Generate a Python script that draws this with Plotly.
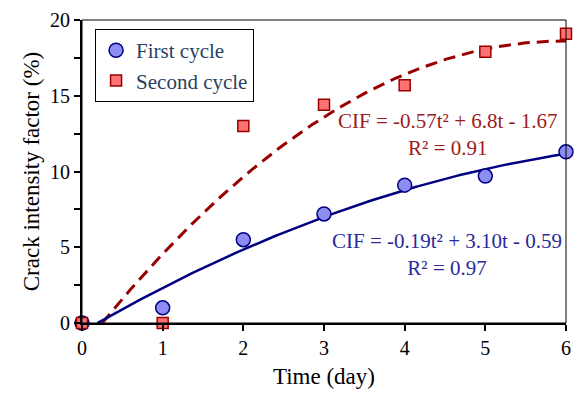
import numpy as np
import plotly.graph_objects as go

days = [0, 1, 2, 3, 4, 5, 6]
first_cycle = [0.0, 1.0, 5.5, 7.2, 9.1, 9.7, 11.3]
second_cycle = [0.0, 0.0, 13.0, 14.4, 15.7, 17.9, 19.1]

fit_first = [-0.19, 3.10, -0.59]
fit_second = [-0.57, 6.8, -1.67]
fit_first_start = 0.19
fit_second_start = 0.25

x_ticks = [0, 1, 2, 3, 4, 5, 6]
y_ticks = [0, 2.5, 5, 7.5, 10, 12.5, 15, 17.5, 20]
y_tick_text = ["0", "", "5", "", "10", "", "15", "", "20"]

FONT = "Liberation Serif"
BLUE_LINE = "#000080"
RED_LINE = "#990000"
BLUE_TXT = "#2A2A9A"
RED_TXT = "#9B1C1C"

t1 = np.linspace(fit_first_start, 6, 200)
t2 = np.linspace(fit_second_start, 6, 200)

fig = go.Figure()
fig.add_trace(go.Scatter(x=t2, y=np.polyval(fit_second, t2), mode="lines",
                         line=dict(color=RED_LINE, width=3, dash="12px,7px"),
                         showlegend=False))
fig.add_trace(go.Scatter(x=t1, y=np.polyval(fit_first, t1), mode="lines",
                         line=dict(color=BLUE_LINE, width=2.5),
                         showlegend=False))
fig.add_trace(go.Scatter(x=days, y=first_cycle, mode="markers", name="First cycle",
                         marker=dict(symbol="circle", size=14, color="#8C8CF2",
                                     line=dict(color=BLUE_LINE, width=1.5)),
                         cliponaxis=False))
fig.add_trace(go.Scatter(x=days, y=second_cycle, mode="markers", name="Second cycle",
                         marker=dict(symbol="square", size=11, color="#FF7272",
                                     line=dict(color=RED_LINE, width=1.5)),
                         cliponaxis=False))

fig.add_annotation(x=4.54, y=12.45, text="CIF = -0.57t² + 6.8t - 1.67<br>R² = 0.91",
                   showarrow=False, font=dict(family=FONT, size=21, color=RED_TXT),
                   align="center", xanchor="center", yanchor="middle")
fig.add_annotation(x=4.52, y=4.5, text="CIF = -0.19t² + 3.10t - 0.59<br>R² = 0.97",
                   showarrow=False, font=dict(family=FONT, size=21, color=BLUE_TXT),
                   align="center", xanchor="center", yanchor="middle")

fig.add_shape(type="rect", xref="x domain", yref="y domain", x0=0, x1=1, y0=0, y1=1,
              line=dict(color="black", width=1), layer="above")

fig.update_layout(
    width=578, height=394,
    margin=dict(l=82, r=7, t=20, b=71),
    paper_bgcolor="white", plot_bgcolor="white",
    font=dict(family=FONT, size=20),
    legend=dict(x=0.027, y=0.97, xanchor="left", yanchor="top",
                bordercolor="black", borderwidth=1, bgcolor="white",
                font=dict(family=FONT, size=21)),
    xaxis=dict(range=[0, 6], tickvals=x_ticks, ticks="outside", ticklen=6, tickwidth=2,
               tickcolor="black", showline=True, linewidth=2, linecolor="black",
               showgrid=False, zeroline=False,
               title=dict(text="Time (day)", font=dict(family=FONT, size=23, color="black"),
                          standoff=10),
               tickfont=dict(family=FONT, size=20, color="black")),
    yaxis=dict(range=[0, 20], tickvals=y_ticks, ticktext=y_tick_text, ticks="outside",
               ticklen=6, tickwidth=2,
               tickcolor="black", showline=True, linewidth=2, linecolor="black",
               showgrid=False, zeroline=False,
               title=dict(text="Crack intensity factor (%)",
                          font=dict(family=FONT, size=23, color="black"), standoff=4),
               tickfont=dict(family=FONT, size=20, color="black")),
)

fig.write_html("out.html")
